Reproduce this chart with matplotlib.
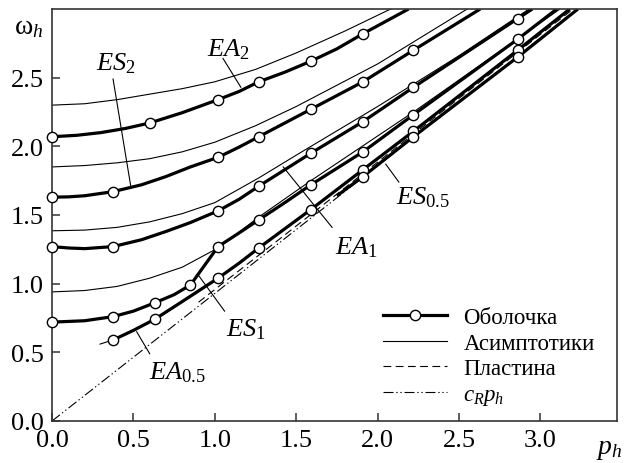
"""Dispersion curves of the shell vs. plate, with asymptotics (omega_h vs p_h)."""

import matplotlib
matplotlib.use("Agg")
import matplotlib.pyplot as plt
from matplotlib.lines import Line2D

plt.rcParams["font.family"] = ["Liberation Serif", "DejaVu Serif"]
plt.rcParams["mathtext.fontset"] = "custom"
plt.rcParams["mathtext.rm"] = "Liberation Serif"
plt.rcParams["mathtext.it"] = "Liberation Serif:italic"
plt.rcParams["mathtext.bf"] = "Liberation Serif:bold"

# --- shell curves (thick lines) and their computed points (circles) ---
EA2_P = [0.0, 0.15, 0.3, 0.45, 0.6, 0.8, 1.02, 1.15, 1.27, 1.43, 1.59, 1.75, 1.91, 2.05, 2.19]
EA2_W = [2.07, 2.08, 2.10, 2.13, 2.17, 2.245, 2.34, 2.40, 2.47, 2.54, 2.62, 2.71, 2.82, 2.91, 3.0]
EA2_DOTS_P = [0.0, 0.6, 1.02, 1.27, 1.59, 1.91]
EA2_DOTS_W = [2.07, 2.17, 2.34, 2.47, 2.62, 2.82]

ES2_P = [0.0, 0.1, 0.2, 0.375, 0.55, 0.7, 0.85, 1.02, 1.15, 1.27, 1.43, 1.59, 1.91, 2.22, 2.63]
ES2_W = [1.63, 1.632, 1.64, 1.67, 1.72, 1.78, 1.85, 1.92, 1.995, 2.07, 2.17, 2.27, 2.47, 2.70, 3.0]
ES2_DOTS_P = [0.0, 0.375, 1.02, 1.27, 1.59, 1.91, 2.22]
ES2_DOTS_W = [1.63, 1.67, 1.92, 2.07, 2.27, 2.47, 2.70]

EA1_P = [0.0, 0.1, 0.2, 0.375, 0.55, 0.7, 0.85, 1.02, 1.15, 1.27, 1.43, 1.59, 1.91, 2.22, 2.54, 2.86, 2.95]
EA1_W = [1.27, 1.26, 1.255, 1.27, 1.32, 1.38, 1.445, 1.53, 1.615, 1.71, 1.83, 1.95, 2.18, 2.43, 2.68, 2.93, 3.0]
EA1_DOTS_P = [0.0, 0.375, 1.02, 1.27, 1.59, 1.91, 2.22, 2.86]
EA1_DOTS_W = [1.27, 1.27, 1.53, 1.71, 1.95, 2.18, 2.43, 2.93]

ES1_P = [0.0, 0.2, 0.375, 0.5, 0.63, 0.75, 0.85, 1.02, 1.15, 1.27, 1.43, 1.59, 1.91, 2.22, 2.86, 3.10]
ES1_W = [0.72, 0.73, 0.76, 0.80, 0.86, 0.92, 0.99, 1.27, 1.37, 1.465, 1.59, 1.72, 1.96, 2.23, 2.78, 3.0]
ES1_DOTS_P = [0.0, 0.375, 0.63, 0.85, 1.02, 1.27, 1.59, 1.91, 2.22, 2.86]
ES1_DOTS_W = [0.72, 0.76, 0.86, 0.99, 1.27, 1.465, 1.72, 1.96, 2.23, 2.78]

EA05_P = [0.375, 0.5, 0.63, 0.8, 1.02, 1.15, 1.27, 1.59, 1.91, 2.22, 2.86, 3.18]
EA05_W = [0.59, 0.66, 0.74, 0.87, 1.04, 1.15, 1.26, 1.54, 1.83, 2.11, 2.70, 3.0]
EA05_DOTS_P = [0.375, 0.63, 1.02, 1.27, 1.59, 1.91, 2.22, 2.86]
EA05_DOTS_W = [0.59, 0.74, 1.04, 1.26, 1.54, 1.83, 2.11, 2.70]

ES05_P = [1.75, 1.91, 2.22, 2.86, 3.23]
ES05_W = [1.64, 1.78, 2.07, 2.65, 3.0]
ES05_DOTS_P = [1.91, 2.22, 2.86]
ES05_DOTS_W = [1.78, 2.07, 2.65]

# --- asymptotics (thin lines) ---
ASYM = [
    ([0.0, 0.2, 0.4, 0.6, 0.8, 1.0, 1.25, 1.5, 1.8, 2.08],
     [2.30, 2.31, 2.34, 2.38, 2.42, 2.47, 2.56, 2.68, 2.84, 3.0]),
    ([0.0, 0.2, 0.4, 0.6, 0.8, 1.0, 1.25, 1.5, 2.0, 2.55],
     [1.85, 1.86, 1.88, 1.91, 1.96, 2.03, 2.15, 2.29, 2.60, 3.0]),
    ([0.0, 0.2, 0.4, 0.6, 0.8, 1.0, 1.27, 1.52, 2.0, 2.5, 2.93],
     [1.385, 1.39, 1.41, 1.45, 1.51, 1.59, 1.77, 1.95, 2.29, 2.66, 3.0]),
    ([0.0, 0.2, 0.4, 0.6, 0.8, 1.02, 1.27, 1.59, 2.22, 3.12],
     [0.94, 0.95, 0.98, 1.04, 1.12, 1.26, 1.485, 1.75, 2.25, 3.0]),
    ([0.295, 0.375, 0.63, 1.02, 1.27], [0.56, 0.59, 0.735, 1.035, 1.255]),
]

# --- plate (dashed) ---
PLATE_P = [0.9, 1.5, 2.0, 2.5, 3.0, 3.25]
PLATE_W = [0.865, 1.42, 1.885, 2.35, 2.815, 3.045]

# --- Rayleigh line c_R p_h (end points) ---
RAY_P = [0.0, 3.25]
RAY_W = [0.0, 3.02]

XTICKS = [0.0, 0.5, 1.0, 1.5, 2.0, 2.5, 3.0]
YTICKS = [0.0, 0.5, 1.0, 1.5, 2.0, 2.5]

THICK = 2.3
THIN = 0.8
DOT_KW = dict(marker="o", ms=7.4, mfc="white", mec="black", mew=1.0, ls="none", zorder=5)
DASHDOT = (0, (9, 2.5, 1.2, 2.5, 1.2, 2.5))
DASHED = (0, (7, 4))

fig = plt.figure(figsize=(6.24, 4.64), dpi=100)
ax = fig.add_axes([52 / 624, 1 - 422 / 464, 565 / 624, 412 / 464])

ax.plot(RAY_P, RAY_W, color="black", lw=THIN, ls=DASHDOT)
ax.plot(PLATE_P, PLATE_W, color="black", lw=THIN, ls=DASHED)
for p, w in ASYM:
    ax.plot(p, w, color="black", lw=THIN)

curves = [
    (EA2_P, EA2_W, EA2_DOTS_P, EA2_DOTS_W),
    (ES2_P, ES2_W, ES2_DOTS_P, ES2_DOTS_W),
    (EA1_P, EA1_W, EA1_DOTS_P, EA1_DOTS_W),
    (ES1_P, ES1_W, ES1_DOTS_P, ES1_DOTS_W),
    (EA05_P, EA05_W, EA05_DOTS_P, EA05_DOTS_W),
    (ES05_P, ES05_W, ES05_DOTS_P, ES05_DOTS_W),
]
for p, w, dp, dw in curves:
    ax.plot(p, w, color="black", lw=THICK, solid_capstyle="butt",
            solid_joinstyle="round")
    ax.plot(dp, dw, clip_on=False, **DOT_KW)

# curve labels with leader lines: (text, text pos, leader start, leader end)
labels = [
    (r"$EA_2$", (1.08, 2.71), (1.05, 2.64), (1.16, 2.43)),
    (r"$ES_2$", (0.39, 2.61), (0.375, 2.49), (0.485, 1.70)),
    (r"$EA_1$", (1.87, 1.27), (1.72, 1.41), (1.42, 1.85)),
    (r"$ES_1$", (1.19, 0.67), (1.06, 0.80), (0.90, 1.06)),
    (r"$EA_{0.5}$", (0.77, 0.36), (0.60, 0.49), (0.52, 0.65)),
    (r"$ES_{0.5}$", (2.28, 1.63), (2.13, 1.74), (2.05, 1.87)),
]
for text, pos, a, b in labels:
    ax.plot([a[0], b[0]], [a[1], b[1]], color="black", lw=THIN)
    ax.text(pos[0], pos[1], text, fontsize=19, ha="center", va="center")

ax.set_xlim(0, 3.47)
ax.set_ylim(0, 3.0)
ax.set_xticks(XTICKS)
ax.set_yticks(YTICKS)
ax.set_xticklabels([f"{v:.1f}" for v in XTICKS])
ax.set_yticklabels([f"{v:.1f}" for v in YTICKS])
ax.tick_params(direction="in", length=6, width=1.1, labelsize=19, pad=6,
               color="#333333")
for s in ax.spines.values():
    s.set_linewidth(1.2)
    s.set_color("#333333")

ax.text(-0.14, 2.87, r"$\mathrm{\omega}_h$", fontsize=20, ha="center", va="center",
        clip_on=False)
ax.text(3.42, -0.2, r"$p_h$", fontsize=20, ha="center", va="center", clip_on=False)

handles = [
    Line2D([], [], color="black", lw=THICK, marker="o", ms=7.4, mfc="white",
           mec="black", mew=1.0),
    Line2D([], [], color="black", lw=THIN),
    Line2D([], [], color="black", lw=THIN, ls=DASHED),
    Line2D([], [], color="black", lw=THIN, ls=DASHDOT),
]
names = ["Оболочка", "Асимптотики", "Пластина", r"$c_Rp_h$"]
ax.legend(handles, names, loc="upper left", bbox_to_anchor=(0.586, 0.277),
          frameon=False, fontsize=16.5, borderpad=0, borderaxespad=0,
          handlelength=2.8, handletextpad=0.7, labelspacing=0.2)

fig.savefig("out.png", dpi=100)
